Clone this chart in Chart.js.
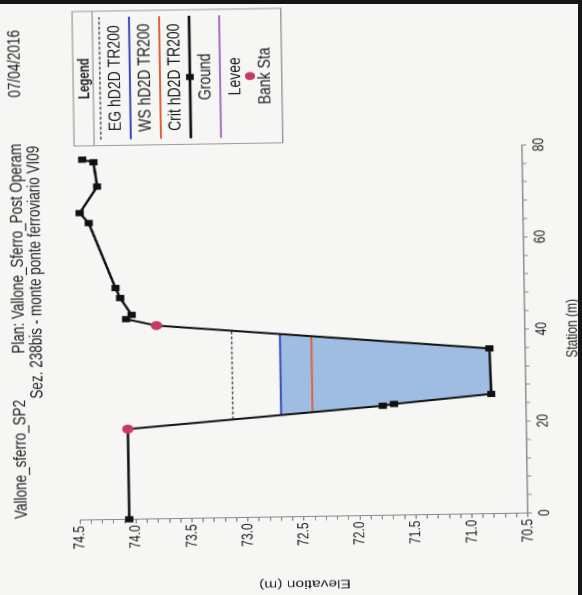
<!DOCTYPE html>
<html>
<head>
<meta charset="utf-8">
<script src="https://cdn.jsdelivr.net/npm/chart.js@4.4.1/dist/chart.umd.min.js"></script>
<style>
  html,body{margin:0;padding:0;}
  body{width:582px;height:595px;background:#f6f6f4;position:relative;overflow:hidden;}
  /* the photo is slightly tilted */
  #tilt{position:absolute;left:0;top:0;width:582px;height:595px;transform-origin:304px 331px;transform:rotate(-0.9deg);}
  /* chart drawn upright, then turned a quarter left and stretched like the photo */
  #wrap{position:absolute;left:0;top:0;width:595px;height:448px;transform-origin:0 0;
        transform:translateY(595px) rotate(-90deg) scaleY(1.2991);}
  .edgeTop{position:absolute;left:0;top:0;width:582px;height:4px;background:#151515;}
  .edgeRight{position:absolute;right:0;top:0;width:4px;height:595px;background:#151515;}
</style>
</head>
<body>
<div id="tilt"><div id="wrap"><canvas id="chart" width="595" height="448"></canvas></div></div>
<div class="edgeTop"></div>
<div class="edgeRight"></div>
<script>
// titolo
const titleParts = ["Vallone_sferro_SP2", "Plan: Vallone_Sferro_Post Operam", "07/04/2016"];
const subTitle = "Sez. 238bis - monte ponte ferroviario VI09";

// terreno (stazione m, quota m)
const groundSta  = [0, 19.6, 23.8, 24.15, 26.0, 35.9, 42.0, 43.5, 44.4, 48.1, 50.3, 64.5, 66.7, 72.4, 77.7, 78.3];
const groundElev = [74.06, 74.06, 71.78, 71.68, 70.81, 70.82, 73.79, 74.06, 74.01, 74.11, 74.15, 74.38, 74.46, 74.30, 74.33, 74.43];

// sponde
const bankSta  = [19.6, 42.0];
const bankElev = [74.06, 73.79];

// livelli TR200
const egSta   = [21.33, 40.62];
const egElev  = [73.12, 73.12];
const wsSta   = [22.12, 39.74];
const wsElev  = [72.69, 72.69];
const critSta = [22.64, 39.17];
const critElev= [72.41, 72.41];

// assi
const staTicks  = [0, 20, 40, 60, 80];
const elevTicks = [70.5, 71.0, 71.5, 72.0, 72.5, 73.0, 73.5, 74.0, 74.5];

const pts = (xs, ys) => xs.map((x, i) => ({x: x, y: ys[i]}));

// sezione bagnata: pelo libero + punti di terreno sotto
const wetPts = [{x: wsSta[0], y: wsElev[0]}]
  .concat(pts(groundSta, groundElev).filter(p => p.x > wsSta[0] && p.x < wsSta[1]))
  .concat([{x: wsSta[1], y: wsElev[1]}]);

const FONT = '"Liberation Sans", Arial, sans-serif';
Chart.defaults.font.family = FONT;
Chart.defaults.font.size = 12;
Chart.defaults.color = "#1e1e1e";

const hecFrame = {
  id: "hecFrame",
  afterDraw(chart){
    const ctx = chart.ctx;
    ctx.save();
    ctx.fillStyle = "#1e1e1e";
    ctx.textBaseline = "middle";
    ctx.font = "13.5px " + FONT;
    // riga 1: tre blocchi
    const x0 = 80.5, x1 = 569.5;
    const w0 = ctx.measureText(titleParts[0]).width;
    const w2 = ctx.measureText(titleParts[2]).width;
    ctx.textAlign = "left";
    ctx.fillText(titleParts[0], x0, 14.6);
    ctx.textAlign = "right";
    ctx.fillText(titleParts[2], x1, 14.6);
    ctx.textAlign = "center";
    ctx.fillText(titleParts[1], (x0 + w0 + x1 - w2) / 2, 14.6);
    ctx.fillText(subTitle, 327, 28.5);

    // legenda
    const L = 452.5, R = 587, T = 59.3, B = 220;
    ctx.strokeStyle = "#9a9a9a";
    ctx.lineWidth = 1;
    ctx.strokeRect(L, T, R - L, B - T);
    ctx.beginPath(); ctx.moveTo(L, 74.7); ctx.lineTo(R, 74.7); ctx.stroke();
    const cx = (L + R) / 2;
    ctx.font = "bold 11.5px " + FONT;
    ctx.fillText("Legend", cx, 68.1);
    ctx.font = "14px " + FONT;
    chart.data.datasets.filter(d => d.inLegend).forEach((d, i) => {
      const sy = 80 + 23.1 * i, ty = 91.6 + 23.1 * i;
      if (d.showLine !== false) {
        ctx.save();
        ctx.strokeStyle = d.borderColor;
        ctx.lineWidth = d.borderWidth || 1;
        ctx.setLineDash(d.borderDash || []);
        ctx.beginPath(); ctx.moveTo(L + 6, sy); ctx.lineTo(R - 6, sy); ctx.stroke();
        ctx.restore();
      }
      if (d.pointRadius > 0) {
        ctx.fillStyle = d.pointBackgroundColor;
        ctx.beginPath();
        if (d.pointStyle === "rect") ctx.rect(cx - 3, sy - 3, 6, 6);
        else ctx.arc(cx, sy, d.pointRadius, 0, Math.PI * 2);
        ctx.fill();
      }
      ctx.fillStyle = "#1e1e1e";
      ctx.fillText(d.label, cx, ty);
    });
    ctx.restore();
  }
};

new Chart(document.getElementById("chart"), {
  type: "scatter",
  data: {
    datasets: [
      {label: "EG hD2D TR200", inLegend: true, data: pts(egSta, egElev), showLine: true,
       borderColor: "#4a4a4a", borderWidth: 1, borderDash: [3, 2], pointRadius: 0, order: 3},
      {label: "WS hD2D TR200", inLegend: true, data: pts(wsSta, wsElev), showLine: true,
       borderColor: "#3347b8", borderWidth: 1.5, pointRadius: 0, order: 3},
      {label: "Crit hD2D TR200", inLegend: true, data: pts(critSta, critElev), showLine: true,
       borderColor: "#e0603c", borderWidth: 1.5, pointRadius: 0, order: 3},
      {label: "Ground", inLegend: true, data: pts(groundSta, groundElev), showLine: true,
       borderColor: "#111", borderWidth: 2, pointStyle: "rect", pointRadius: 3,
       pointBackgroundColor: "#111", pointBorderColor: "#111", clip: false, order: 1},
      {label: "Levee", inLegend: true, data: [], showLine: true,
       borderColor: "#a36cc4", borderWidth: 1.5, pointRadius: 0, order: 2},
      {label: "Bank Sta", inLegend: true, data: pts(bankSta, bankElev), showLine: false,
       pointStyle: "circle", pointRadius: 4, pointBackgroundColor: "#c83a62",
       pointBorderColor: "#c83a62", clip: false, order: 0},
      {label: "water", data: wetPts, showLine: true, borderWidth: 0, pointRadius: 0,
       backgroundColor: "#9fbde2", fill: {value: wsElev[0]}, order: 9}
    ]
  },
  options: {
    responsive: false,
    animation: false,
    devicePixelRatio: 2,
    layout: {padding: {top: 59.3, right: 148.4, bottom: 0, left: 0}},
    plugins: {legend: {display: false}, tooltip: {enabled: false}, title: {display: false}},
    scales: {
      x: {
        type: "linear", position: "bottom", min: 0, max: 80,
        afterFit: s => { s.height = 43.9; },
        ticks: {stepSize: 4, autoSkip: false, maxRotation: 0, padding: 3,
                callback: v => staTicks.includes(v) ? String(v) : ""},
        grid: {drawOnChartArea: false, tickLength: 3, color: "#8a8a8a"},
        border: {color: "#8a8a8a"},
        title: {display: true, text: "Station (m)", padding: {top: 0, bottom: 0}}
      },
      y: {
        type: "linear", min: 70.5, max: 74.5,
        afterFit: s => { s.width = 78.5; },
        ticks: {stepSize: 0.1, autoSkip: false, padding: 2,
                callback: v => elevTicks.some(t => Math.abs(t - v) < 1e-6) ? v.toFixed(1) : ""},
        grid: {drawOnChartArea: false, tickLength: 4, color: "#8a8a8a"},
        border: {color: "#8a8a8a"},
        title: {display: true, text: "Elevation (m)", padding: {top: 4, bottom: 4}}
      }
    }
  },
  plugins: [hecFrame]
});
</script>
</body>
</html>
